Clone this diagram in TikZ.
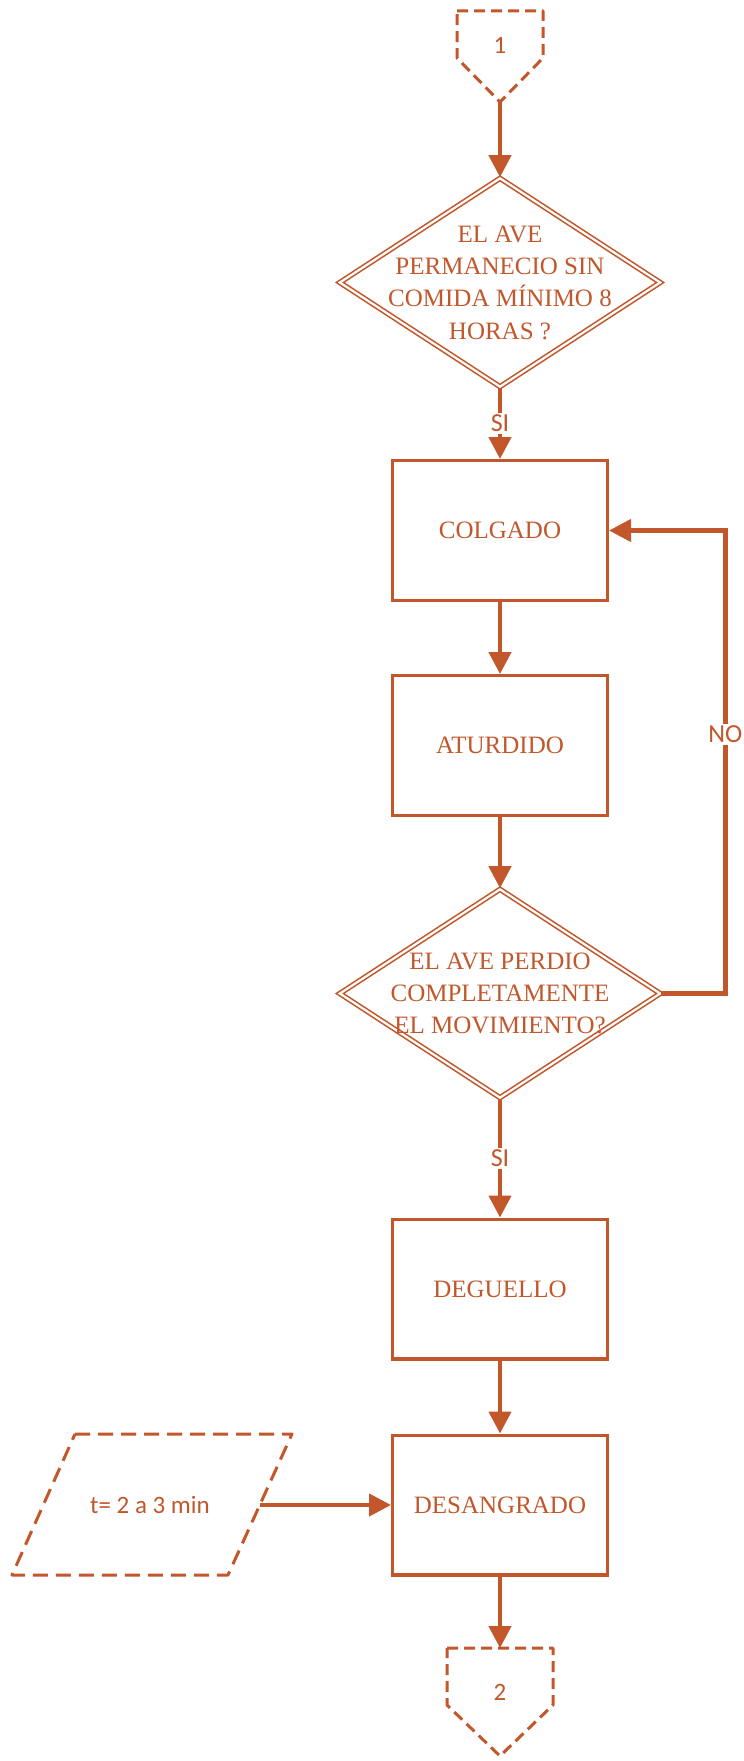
\documentclass[tikz,border=0pt]{standalone}
\usepackage{fontspec}
\setmainfont{Liberation Serif}
\newfontfamily\calib{Carlito}
\usetikzlibrary{shapes.geometric,arrows.meta}
\definecolor{oc}{RGB}{193,87,43}
\begin{document}
\begin{tikzpicture}[x=1pt,y=-1pt,
 proc/.style={draw=oc, line width=3.2pt, minimum width=214.8pt, minimum height=139.8pt, inner sep=0pt, text=oc, font=\fontsize{25}{30}\selectfont},
 dec/.style={diamond, draw=oc, double, double distance=2.2pt, line width=1.6pt, minimum width=321pt, minimum height=209pt, inner sep=0pt},
 dectext/.style={text=oc, align=center, inner sep=0pt, font=\fontsize{25}{32.3}\selectfont},
 arr/.style={draw=oc, line width=4.4pt, -{Triangle[length=22pt,width=22pt]}},
 lab/.style={fill=white, text=oc, font=\calib\fontsize{26}{30}\selectfont, inner sep=2pt},
 ctext/.style={text=oc, font=\calib\fontsize{25}{30}\selectfont, inner sep=0pt},
 dsh/.style={draw=oc, line width=3pt, dash pattern=on 11pt off 6pt, line join=round},
]
\useasboundingbox (0,0) rectangle (744,1761);

% process boxes
\node[proc] (colg) at (500,530.5) {COLGADO};
\node[proc] (atur) at (500,745.5) {ATURDIDO};
\node[proc] (deg) at (500,1289) {DEGUELLO};
\node[proc] (des) at (500,1505) {DESANGRADO};

% decisions
\node[dec, label={[dectext]center:{EL AVE\\PERMANECIO SIN\\COMIDA MÍNIMO 8\\HORAS ?}}] (d1) at (500,282.5) {};
\node[dec, label={[dectext]center:{EL AVE PERDIO\\COMPLETAMENTE\\EL MOVIMIENTO?}}] (d2) at (500,993.5) {};

% off-page connectors
\node[ctext] (c1) at (500,45) {1};
\draw[dsh] (457,11) -- (543,11) -- (543,58) -- (500,102) -- (457,58) -- cycle;
\coordinate (c1tip) at (500,102);
\node[ctext] (c2) at (500,1692) {2};
\draw[dsh] (447,1648) -- (553,1648) -- (553,1705) -- (500,1756) -- (447,1705) -- cycle;
\coordinate (c2top) at (500,1648);

% input parallelogram
\node[ctext] (tin) at (150,1505) {t= 2 a 3 min};
\draw[dsh, dash pattern=on 15pt off 8pt] (75,1434) -- (292,1434) -- (228,1575) -- (12,1575) -- cycle;
\coordinate (pout) at (260,1505);

% connectors
\draw[arr] (c1tip) -- (d1.north);
\draw[arr] (d1.south) -- node[lab]{SI} (colg.north);
\draw[arr] (colg.south) -- (atur.north);
\draw[arr] (atur.south) -- (d2.north);
\draw[arr] (d2.south) -- node[lab]{SI} (deg.north);
\draw[arr] (d2.east) -- ++(64,0) |- node[lab,pos=0.28]{NO} (colg.east);
\draw[arr] (deg.south) -- (des.north);
\draw[arr] (pout) -- (des.west);
\draw[arr] (des.south) -- (c2top);
\end{tikzpicture}
\end{document}
